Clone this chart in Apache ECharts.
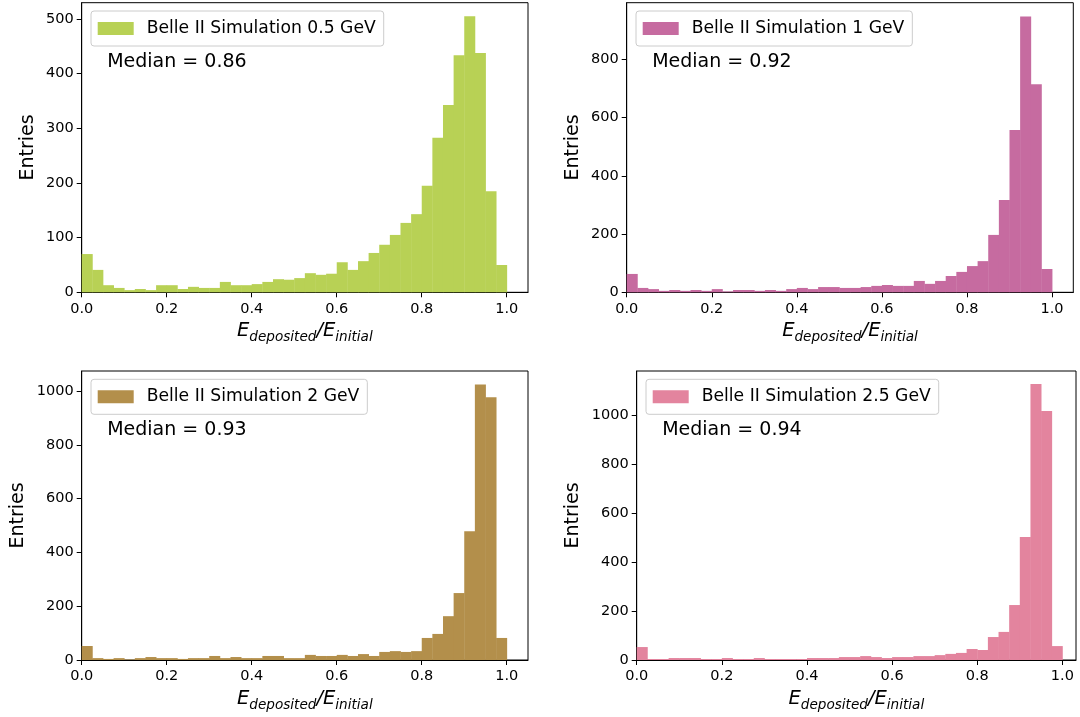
<!DOCTYPE html>
<html>
<head>
<meta charset="utf-8">
<script src="https://cdn.jsdelivr.net/npm/echarts@6/dist/echarts.min.js"></script>
<style>
  html, body { margin: 0; padding: 0; background: #fff; }
  #chart { width: 1080px; height: 717px; }
</style>
</head>
<body>
<div id="chart"></div>
<script>
// ---- data ----
const binEdges = [0.000,0.025,0.050,0.075,0.100,0.125,0.150,0.175,0.200,0.225,0.250,0.275,0.300,0.325,0.350,0.375,0.400,0.425,0.450,0.475,
                  0.500,0.525,0.550,0.575,0.600,0.625,0.650,0.675,0.700,0.725,0.750,0.775,0.800,0.825,0.850,0.875,0.900,0.925,0.950,0.975,1.000];

const counts05 = [70,41,13,8,4,6,4,13,13,6,10,8,8,19,13,13,15,19,24,23,
                  26,35,32,34,55,41,57,72,87,105,127,143,195,283,343,434,505,438,185,50];
const counts1  = [63,15,11,5,8,5,8,5,11,3,8,8,5,8,5,11,15,11,18,18,
                  15,15,18,22,25,22,22,39,29,39,56,70,90,107,197,317,557,947,714,80];
const counts2  = [52,7,4,7,2,7,11,7,7,4,7,7,15,7,11,7,7,15,15,7,
                  7,19,15,15,19,15,22,15,30,33,30,33,82,97,163,249,479,1025,977,82];
const counts25 = [53,4,4,8,8,8,4,4,8,4,4,8,4,4,4,4,8,8,8,12,
                  12,16,12,8,12,12,16,16,20,25,29,45,41,94,115,225,503,1130,1019,57];

const seriesNames = ['Belle II Simulation 0.5 GeV','Belle II Simulation 1 GeV','Belle II Simulation 2 GeV','Belle II Simulation 2.5 GeV'];
const medianTexts = ['Median = 0.86','Median = 0.92','Median = 0.93','Median = 0.94'];
const colors = ['#b8d155','#c66ba0','#b38f4b','#e3849e'];
const xTicks = [0.0,0.2,0.4,0.6,0.8,1.0];
const yTicks05 = [0,100,200,300,400,500];
const yTicksHigh = [0,200,400,600,800];
const yTicksK = [0,200,400,600,800,1000];

// ---- layout ----
const panels = [
  { left: 81.7,  top: 2.7, width: 446.3, height: 289.6, xmax: 1.05,  ymax: 530,  yTicks: yTicks05,  nameGap: 44, counts: counts05 },
  { left: 626.7, top: 2.7, width: 446.6, height: 289.6, xmax: 1.05,  ymax: 994,  yTicks: yTicksHigh, nameGap: 44, counts: counts1 },
  { left: 81.7,  top: 371, width: 446.3, height: 289,   xmax: 1.05,  ymax: 1075, yTicks: yTicksK,   nameGap: 54, counts: counts2 },
  { left: 636.7, top: 371, width: 439.3, height: 289,   xmax: 1.032, ymax: 1183, yTicks: yTicksK,   nameGap: 54, counts: counts25 }
];

const FONT = 'DejaVu Sans';

const grids = [], xAxes = [], yAxes = [], series = [], legends = [], graphics = [];

panels.forEach((p, i) => {
  grids.push({ left: p.left, top: p.top, width: p.width, height: p.height,
               show: true, borderColor: '#000', borderWidth: 1, backgroundColor: 'transparent' });
  xAxes.push({
    type: 'value', gridIndex: i, min: 0, max: p.xmax,
    name: '{m|E}{s|deposited}{m|/E}{s|initial}',
    nameLocation: 'middle', nameGap: 29,
    nameTextStyle: {
      rich: {
        m: { fontSize: 19.5, fontStyle: 'italic', fontFamily: FONT, color: '#000', lineHeight: 23, verticalAlign: 'top' },
        s: { fontSize: 13.6, fontStyle: 'italic', fontFamily: FONT, color: '#000', lineHeight: 23, verticalAlign: 'bottom' }
      }
    },
    splitLine: { show: false },
    axisLine: { show: true, onZero: false, lineStyle: { color: '#000', width: 1 } },
    axisTick: { show: true, inside: false, length: 5, customValues: xTicks, lineStyle: { color: '#000', width: 1 } },
    axisLabel: { customValues: xTicks, margin: 9, fontSize: 14.5, fontFamily: FONT, color: '#000',
                 formatter: v => Number(v).toFixed(1) }
  });
  yAxes.push({
    type: 'value', gridIndex: i, min: 0, max: p.ymax,
    name: 'Entries', nameLocation: 'middle', nameGap: p.nameGap, nameRotate: 90,
    nameTextStyle: { fontSize: 19, fontFamily: FONT, color: '#000' },
    splitLine: { show: false },
    axisLine: { show: true, onZero: false, lineStyle: { color: '#000', width: 1 } },
    axisTick: { show: true, inside: false, length: 5, customValues: p.yTicks, lineStyle: { color: '#000', width: 1 } },
    axisLabel: { customValues: p.yTicks, margin: 8, fontSize: 14.5, fontFamily: FONT, color: '#000',
                 formatter: v => String(Math.round(v)) }
  });
  const data = p.counts.map((c, k) => [binEdges[k], binEdges[k + 1], c]);
  series.push({
    type: 'custom', name: seriesNames[i], xAxisIndex: i, yAxisIndex: i,
    itemStyle: { color: colors[i] },
    encode: { x: [0, 1], y: 2 },
    data: data,
    renderItem: (params, api) => {
      const a = api.coord([api.value(0), api.value(2)]);
      const b = api.coord([api.value(1), 0]);
      return { type: 'rect',
               shape: { x: a[0], y: a[1], width: b[0] - a[0] + 0.4, height: b[1] - a[1] },
               style: { fill: api.visual('color') } };
    }
  });
  legends.push({
    data: [seriesNames[i]], left: p.left + 9.3, top: p.top + 8.3,
    orient: 'horizontal', icon: 'rect', itemWidth: 36, itemHeight: 13,
    padding: [9, 8, 9, 6.7], backgroundColor: 'rgba(255,255,255,0.8)',
    borderColor: '#cccccc', borderWidth: 1, borderRadius: 3, selectedMode: false,
    textStyle: { fontSize: 17.2, fontFamily: FONT, color: '#000', padding: [0, 0, 0, 8], lineHeight: 13 }
  });
  graphics.push({
    type: 'text', x: p.left + 25.5, y: p.top + 59.3, silent: true,
    style: { text: medianTexts[i], fontSize: 19, fontFamily: FONT, fill: '#000', align: 'left', verticalAlign: 'middle' }
  });
});

const chart = echarts.init(document.getElementById('chart'), null, { renderer: 'canvas' });
chart.setOption({
  animation: false,
  backgroundColor: '#fff',
  grid: grids, xAxis: xAxes, yAxis: yAxes, series: series, legend: legends, graphic: graphics,
  tooltip: { show: false }
});
</script>
</body>
</html>
